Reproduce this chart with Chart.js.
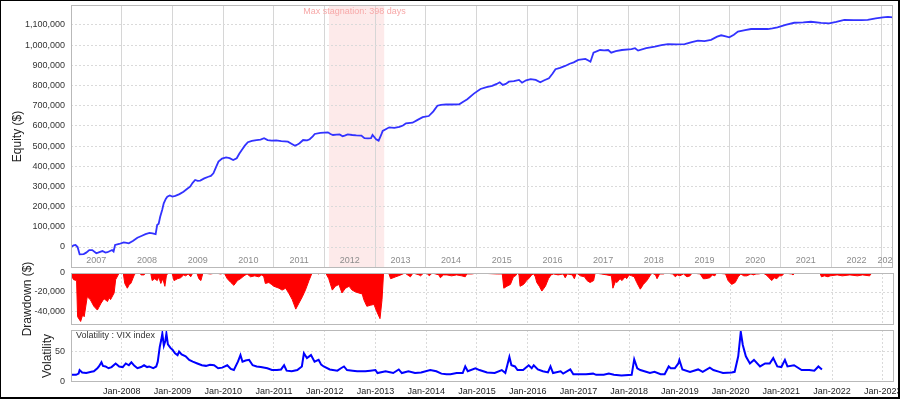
<!DOCTYPE html>
<html>
<head>
<meta charset="utf-8">
<script src="https://cdn.jsdelivr.net/npm/chart.js@4.4.1/dist/chart.umd.min.js"></script>
<style>
  body { margin: 0; background: #fff; }
  #frame {
    position: relative; width: 900px; height: 399px; box-sizing: border-box;
    border: 1px solid #000; border-right-width: 2px; border-bottom-width: 2px;
    overflow: hidden; background: #fff;
  }
  canvas { position: absolute; left: -1px; }
</style>
</head>
<body>
<div id="frame">
  <canvas id="equityChart" width="900" height="270" style="top:-1px;width:900px;height:270px"></canvas>
  <canvas id="drawdownChart" width="900" height="80" style="top:257px;width:900px;height:80px"></canvas>
  <canvas id="vixChart" width="900" height="71" style="top:327px;width:900px;height:71px"></canvas>
</div>
<script>
const X_MIN = 2007;
const X_MAX = 2023.22;
const tickYears = [2008, 2009, 2010, 2011, 2012, 2013, 2014, 2015, 2016, 2017, 2018, 2019, 2020, 2021, 2022, 2023];
const periodYears = [2007, 2008, 2009, 2010, 2011, 2012, 2013, 2014, 2015, 2016, 2017, 2018, 2019, 2020, 2021, 2022, 2023];

const equityTicks = [0, 100000, 200000, 300000, 400000, 500000, 600000, 700000, 800000, 900000, 1000000, 1100000];
const drawdownTicks = [0, -20000, -40000];
const vixTicks = [0, 50];

const stagnationPeriod = [2012.09, 2013.18];
const stagnationLabel = "Max stagnation: 398 days";

const equityYears = [2007.00, 2007.05, 2007.09, 2007.13, 2007.17, 2007.25, 2007.30, 2007.36, 2007.42, 2007.50,
  2007.56, 2007.62, 2007.68, 2007.72, 2007.77, 2007.81, 2007.84, 2007.87, 2007.95, 2008.04,
  2008.10, 2008.14, 2008.22, 2008.31, 2008.40, 2008.47, 2008.55, 2008.61, 2008.67, 2008.70,
  2008.73, 2008.76, 2008.80, 2008.83, 2008.87, 2008.90, 2008.95, 2009.00, 2009.06, 2009.14,
  2009.22, 2009.30, 2009.35, 2009.40, 2009.45, 2009.50, 2009.55, 2009.63, 2009.71, 2009.76,
  2009.81, 2009.86, 2009.91, 2009.98, 2010.06, 2010.13, 2010.20, 2010.27, 2010.32, 2010.37,
  2010.43, 2010.49, 2010.57, 2010.66, 2010.74, 2010.81, 2010.88, 2010.96, 2011.05, 2011.15,
  2011.28, 2011.35, 2011.42, 2011.47, 2011.51, 2011.58, 2011.66, 2011.71, 2011.77, 2011.81,
  2011.92, 2012.07, 2012.12, 2012.17, 2012.24, 2012.30, 2012.36, 2012.40, 2012.46, 2012.55,
  2012.63, 2012.73, 2012.79, 2012.86, 2012.92, 2012.95, 2013.00, 2013.02, 2013.07, 2013.12,
  2013.15, 2013.22, 2013.28, 2013.38, 2013.48, 2013.55, 2013.61, 2013.74, 2013.84, 2013.94,
  2014.06, 2014.15, 2014.23, 2014.30, 2014.40, 2014.50, 2014.66, 2014.74, 2014.82, 2014.95,
  2015.08, 2015.20, 2015.31, 2015.40, 2015.46, 2015.52, 2015.58, 2015.64, 2015.74, 2015.84,
  2015.90, 2015.98, 2016.07, 2016.17, 2016.26, 2016.34, 2016.43, 2016.50, 2016.56, 2016.65,
  2016.75, 2016.84, 2016.92, 2017.01, 2017.15, 2017.20, 2017.25, 2017.31, 2017.44, 2017.52,
  2017.60, 2017.66, 2017.75, 2017.87, 2018.06, 2018.13, 2018.19, 2018.35, 2018.52, 2018.65,
  2018.78, 2018.95, 2019.11, 2019.25, 2019.37, 2019.50, 2019.63, 2019.75, 2019.83, 2019.92,
  2019.99, 2020.08, 2020.16, 2020.30, 2020.42, 2020.60, 2020.75, 2020.84, 2020.94, 2021.10,
  2021.27, 2021.45, 2021.60, 2021.80, 2021.96, 2022.10, 2022.26, 2022.45, 2022.60, 2022.72,
  2022.88, 2023.02, 2023.12, 2023.22];
const equityValues = [0, 8000, 10000, 0, -36000, -35000, -28000, -15000, -15000, -31000,
  -25000, -20000, -28000, -26000, -20000, -15000, -22000, 10000, 15000, 23000,
  20000, 18000, 30000, 46000, 56000, 64000, 70000, 68000, 64000, 109000,
  115000, 150000, 185000, 216000, 238000, 249000, 255000, 250000, 253000, 262000,
  274000, 290000, 299000, 318000, 332000, 328000, 329000, 340000, 348000, 352000,
  365000, 395000, 423000, 438000, 444000, 440000, 431000, 440000, 462000, 481000,
  502000, 519000, 526000, 530000, 532000, 539000, 530000, 527000, 528000, 525000,
  522000, 512000, 502000, 508000, 514000, 530000, 528000, 534000, 548000, 560000,
  565000, 568000, 560000, 555000, 557000, 558000, 549000, 552000, 558000, 555000,
  553000, 552000, 539000, 538000, 539000, 555000, 540000, 534000, 527000, 555000,
  575000, 585000, 593000, 590000, 595000, 602000, 613000, 616000, 630000, 643000,
  649000, 672000, 700000, 704000, 707000, 706000, 707000, 720000, 732000, 760000,
  783000, 792000, 798000, 808000, 816000, 803000, 808000, 819000, 822000, 828000,
  814000, 826000, 832000, 828000, 816000, 826000, 836000, 858000, 881000, 888000,
  897000, 908000, 915000, 927000, 932000, 925000, 918000, 963000, 976000, 974000,
  976000, 963000, 970000, 976000, 980000, 985000, 973000, 985000, 993000, 1000000,
  1005000, 1004000, 1005000, 1015000, 1022000, 1020000, 1026000, 1042000, 1049000, 1044000,
  1039000, 1052000, 1067000, 1074000, 1080000, 1081000, 1080000, 1083000, 1088000, 1100000,
  1111000, 1113000, 1116000, 1110000, 1108000, 1115000, 1125000, 1124000, 1124000, 1125000,
  1133000, 1138000, 1140000, 1138000];

const drawdownYears = [2007.00, 2007.05, 2007.11, 2007.13, 2007.19, 2007.23, 2007.26, 2007.32, 2007.38, 2007.45,
  2007.52, 2007.55, 2007.59, 2007.65, 2007.72, 2007.75, 2007.78, 2007.85, 2007.88, 2007.92,
  2007.95, 2008.03, 2008.06, 2008.11, 2008.15, 2008.18, 2008.24, 2008.27, 2008.36, 2008.38,
  2008.44, 2008.47, 2008.57, 2008.60, 2008.65, 2008.70, 2008.73, 2008.77, 2008.81, 2008.85,
  2008.88, 2008.91, 2008.99, 2009.03, 2009.10, 2009.16, 2009.22, 2009.26, 2009.31, 2009.36,
  2009.40, 2009.48, 2009.52, 2009.56, 2009.60, 2009.75, 2009.85, 2009.95, 2010.02, 2010.08,
  2010.15, 2010.21, 2010.28, 2010.34, 2010.41, 2010.47, 2010.54, 2010.62, 2010.70, 2010.76,
  2010.80, 2010.83, 2010.90, 2010.95, 2011.00, 2011.10, 2011.16, 2011.23, 2011.29, 2011.36,
  2011.43, 2011.49, 2011.56, 2011.62, 2011.69, 2011.75, 2011.86, 2011.88, 2011.91, 2012.02,
  2012.08, 2012.15, 2012.21, 2012.28, 2012.34, 2012.41, 2012.48, 2012.54, 2012.61, 2012.67,
  2012.74, 2012.77, 2012.83, 2012.90, 2012.97, 2013.03, 2013.09, 2013.13, 2013.16, 2013.26,
  2013.30, 2013.40, 2013.50, 2013.58, 2013.66, 2013.69, 2013.74, 2013.86, 2013.89, 2013.95,
  2014.03, 2014.06, 2014.12, 2014.25, 2014.28, 2014.34, 2014.41, 2014.50, 2014.60, 2014.70,
  2014.77, 2014.80, 2014.90, 2015.00, 2015.40, 2015.50, 2015.53, 2015.59, 2015.66, 2015.72,
  2015.76, 2015.80, 2015.83, 2015.85, 2015.92, 2015.98, 2016.02, 2016.08, 2016.12, 2016.15,
  2016.18, 2016.23, 2016.28, 2016.35, 2016.41, 2016.46, 2016.51, 2016.60, 2016.70, 2016.74,
  2016.78, 2016.88, 2016.92, 2016.96, 2017.04, 2017.12, 2017.17, 2017.23, 2017.30, 2017.33,
  2017.45, 2017.56, 2017.65, 2017.68, 2017.73, 2017.76, 2017.82, 2017.86, 2017.92, 2017.95,
  2018.00, 2018.05, 2018.10, 2018.15, 2018.22, 2018.28, 2018.35, 2018.41, 2018.45, 2018.52,
  2018.55, 2018.60, 2018.68, 2018.72, 2018.86, 2018.91, 2018.95, 2019.00, 2019.07, 2019.14,
  2019.20, 2019.24, 2019.40, 2019.46, 2019.50, 2019.59, 2019.64, 2019.69, 2019.72, 2019.90,
  2019.95, 2020.02, 2020.09, 2020.15, 2020.20, 2020.26, 2020.32, 2020.40, 2020.45, 2020.50,
  2020.55, 2020.64, 2020.70, 2020.74, 2020.81, 2020.86, 2020.91, 2020.96, 2021.01, 2021.06,
  2021.20, 2021.23, 2021.27, 2021.76, 2021.79, 2021.85, 2021.92, 2021.96, 2022.10, 2022.20,
  2022.35, 2022.50, 2022.60, 2022.74, 2022.78, 2023.22];
const drawdownValues = [-2000, -7000, -8000, -46000, -51000, -44000, -46000, -25000, -28000, -35000,
  -39000, -36000, -32000, -27000, -30000, -26000, -28000, -21000, -7000, -3000,
  0, 0, -11000, -16000, -12000, -11000, -3000, 0, 0, -2000,
  -2000, 0, 0, -8000, -6000, -8000, -4000, -11000, -6000, -14000,
  -3000, 0, 0, -8000, -6000, -5000, -2000, -3000, -1000, -4000,
  0, 0, -6000, -8000, 0, -1000, 0, -1000, 0, -6000,
  -10000, -13000, -8000, -6000, -3000, -1000, -4000, -3000, -4000, -2000,
  -4000, -11000, -10000, -12000, -14000, -16000, -18000, -16000, -21000, -28000,
  -38000, -32000, -25000, -18000, -8000, 0, 0, -1000, 0, 0,
  -6000, -18000, -14000, -12000, -21000, -16000, -14000, -18000, -20000, -21000,
  -22000, -28000, -35000, -34000, -33000, -41000, -48000, -28000, 0, 0,
  -6000, -4000, -2000, 0, -3000, -4000, 0, -2000, -3000, 0,
  -1000, -3000, 0, -2000, -5000, -2000, -2000, -3000, -2000, -3000,
  -4000, -1000, -1000, 0, -1000, -1000, -16000, -14000, -12000, -4000,
  -3000, 0, -2000, -14000, -12000, -8000, -6000, -2000, -1000, -4000,
  -10000, -14000, -19000, -14000, -6000, -2000, -1000, -2000, -1000, -5000,
  -1000, -2000, -6000, 0, -3000, -4000, -8000, -10000, -8000, 0,
  -1000, -2000, -3000, -16000, -9000, -10000, -6000, -8000, -4000, -6000,
  -2000, -3000, -4000, -10000, -17000, -12000, -8000, -3000, 0, -2000,
  -6000, -1000, -1000, 0, -1000, -4000, -2000, -3000, -1000, -4000,
  -3000, 0, -1000, -6000, -6000, -5000, -2000, -3000, 0, -1000,
  -8000, -12000, -10000, -4000, -1000, -3000, -3000, -1000, -2000, -1000,
  -1000, 0, -2000, -4000, -8000, -5000, -6000, -3000, -3000, 0,
  -1000, -2000, 0, 0, -4000, -3000, -4000, -3000, -2000, -3000,
  -2000, -3000, -2000, -3000, 0, 0];

const vixYears = [2007.00, 2007.10, 2007.15, 2007.17, 2007.22, 2007.30, 2007.40, 2007.45, 2007.52, 2007.55,
  2007.60, 2007.63, 2007.68, 2007.74, 2007.80, 2007.88, 2007.95, 2008.02, 2008.08, 2008.14,
  2008.19, 2008.25, 2008.31, 2008.38, 2008.44, 2008.50, 2008.54, 2008.62, 2008.68, 2008.71,
  2008.75, 2008.78, 2008.80, 2008.83, 2008.86, 2008.88, 2008.91, 2008.96, 2009.00, 2009.05,
  2009.10, 2009.13, 2009.18, 2009.26, 2009.33, 2009.40, 2009.49, 2009.58, 2009.66, 2009.74,
  2009.82, 2009.90, 2009.98, 2010.08, 2010.15, 2010.21, 2010.29, 2010.34, 2010.38, 2010.44,
  2010.51, 2010.58, 2010.66, 2010.74, 2010.87, 2010.96, 2011.06, 2011.14, 2011.20, 2011.25,
  2011.35, 2011.46, 2011.55, 2011.59, 2011.65, 2011.73, 2011.80, 2011.88, 2011.93, 2011.98,
  2012.10, 2012.25, 2012.32, 2012.38, 2012.44, 2012.55, 2012.64, 2012.80, 2012.90, 2013.00,
  2013.04, 2013.20, 2013.35, 2013.46, 2013.52, 2013.65, 2013.78, 2013.90, 2014.08, 2014.20,
  2014.30, 2014.40, 2014.48, 2014.60, 2014.72, 2014.77, 2014.82, 2014.97, 2015.05, 2015.20,
  2015.35, 2015.49, 2015.56, 2015.64, 2015.68, 2015.75, 2015.80, 2015.91, 2016.02, 2016.08,
  2016.12, 2016.20, 2016.30, 2016.40, 2016.45, 2016.50, 2016.65, 2016.70, 2016.84, 2016.90,
  2017.00, 2017.15, 2017.29, 2017.35, 2017.50, 2017.60, 2017.70, 2017.85, 2018.05, 2018.10,
  2018.16, 2018.22, 2018.30, 2018.41, 2018.50, 2018.62, 2018.70, 2018.78, 2018.82, 2018.90,
  2018.97, 2018.99, 2019.05, 2019.20, 2019.36, 2019.45, 2019.59, 2019.66, 2019.78, 2019.85,
  2020.02, 2020.08, 2020.15, 2020.20, 2020.24, 2020.30, 2020.38, 2020.46, 2020.58, 2020.68,
  2020.77, 2020.84, 2020.92, 2021.00, 2021.07, 2021.12, 2021.25, 2021.40, 2021.55, 2021.65,
  2021.73, 2021.80];
const vixValues = [11, 11, 13, 19, 15, 14, 16, 17, 22, 25,
  32, 26, 25, 22, 24, 30, 25, 24, 30, 27,
  32, 26, 22, 24, 27, 24, 25, 22, 25, 33,
  58, 70, 80, 60, 68, 80, 62, 56, 53, 47,
  44, 50, 45, 42, 36, 33, 30, 27, 26, 28,
  27, 22, 23, 27, 21, 19, 33, 44, 33, 35,
  36, 27, 25, 24, 22, 19, 19, 20, 27, 18,
  17, 19, 25, 47, 39, 44, 33, 36, 28, 25,
  20, 18, 22, 25, 19, 18, 17, 17, 18, 19,
  14, 17, 14, 20, 14, 17, 14, 15, 19, 17,
  13, 12, 12, 14, 14, 25, 17, 22, 19, 15,
  14, 19, 14, 41, 27, 25, 19, 19, 27, 22,
  27, 20, 17, 15, 25, 14, 17, 13, 20, 12,
  12, 12, 13, 11, 11, 13, 11, 10, 11, 37,
  22, 19, 17, 14, 16, 12, 12, 25, 22, 22,
  30, 36, 20, 16, 20, 16, 23, 19, 16, 14,
  15, 16, 42, 83, 61, 42, 30, 36, 25, 30,
  30, 39, 25, 24, 36, 25, 27, 19, 19, 18,
  25, 20];

const FONT = "'Liberation Sans', Arial, sans-serif";
const AXIS_WIDTH = 71;

const toPoints = (xs, ys) => xs.map((x, i) => ({ x: x, y: ys[i] }));
const fmt = (v) => Number(v).toLocaleString("en-US");

const fixTicks = (list) => (scale) => {
  scale.ticks = list.map((v) => ({ value: v }));
};
const noPadding = (scale) => {
  scale.paddingTop = 0;
  scale.paddingBottom = 0;
  scale.paddingLeft = 0;
  scale.paddingRight = 0;
};

const yAxis = (min, max, ticks, title, titlePad) => ({
  min: min,
  max: max,
  afterBuildTicks: fixTicks(ticks),
  afterFit: (scale) => {
    scale.width = AXIS_WIDTH;
    noPadding(scale);
  },
  grid: { color: "#dadada", drawTicks: false },
  border: { display: false, dash: [2, 2] },
  ticks: { padding: 6, color: "#333", font: { family: FONT, size: 9 }, callback: fmt },
  title: {
    display: true, text: title, color: "#222",
    font: { family: FONT, size: 12 }, padding: { top: titlePad, bottom: 0 },
  },
});

const hiddenXAxis = (gridColor, dash) => ({
  type: "linear",
  min: X_MIN,
  max: X_MAX,
  afterBuildTicks: fixTicks(tickYears),
  afterFit: (scale) => {
    scale.height = 0;
    noPadding(scale);
  },
  ticks: { display: false },
  grid: { color: gridColor, drawTicks: false },
  border: { display: false, dash: dash },
});

const plotFrame = {
  id: "plotFrame",
  afterDraw(chart) {
    const { ctx, chartArea: a } = chart;
    ctx.save();
    ctx.strokeStyle = "#b9b9b9";
    ctx.lineWidth = 1;
    ctx.strokeRect(a.left + 0.5, a.top + 0.5, a.right - a.left - 1, a.bottom - a.top - 1);
    ctx.restore();
  },
};

const equityDecor = {
  id: "equityDecor",
  beforeDraw(chart) {
    const { ctx, chartArea: a, scales } = chart;
    const x0 = scales.x.getPixelForValue(stagnationPeriod[0]);
    const x1 = scales.x.getPixelForValue(stagnationPeriod[1]);
    ctx.save();
    ctx.fillStyle = "#fdeaea";
    ctx.fillRect(x0, a.top, x1 - x0, a.bottom - a.top);
    ctx.restore();
  },
  afterDraw(chart) {
    const { ctx, chartArea: a, scales } = chart;
    const x = scales.x;
    ctx.save();
    ctx.beginPath();
    ctx.rect(a.left, a.top, a.right - a.left, a.bottom - a.top);
    ctx.clip();
    ctx.font = "9px " + FONT;
    ctx.textAlign = "center";
    ctx.textBaseline = "middle";
    ctx.fillStyle = "#8c8c8c";
    periodYears.forEach((yr) => {
      const from = Math.max(yr, X_MIN);
      const to = Math.min(yr + 1, X_MAX);
      const mid = x.getPixelForValue((from + to) / 2);
      ctx.fillText(String(yr), mid, a.bottom - 7);
    });
    ctx.fillStyle = "#f7a9a9";
    const sx = x.getPixelForValue((stagnationPeriod[0] + stagnationPeriod[1]) / 2);
    ctx.fillText(stagnationLabel, sx - 2, a.top + 7);
    ctx.restore();
  },
};

const vixDecor = {
  id: "vixDecor",
  afterDraw(chart) {
    const { ctx, chartArea: a } = chart;
    ctx.save();
    ctx.font = "9px " + FONT;
    ctx.fillStyle = "#333";
    ctx.textBaseline = "middle";
    ctx.fillText("Volatility : VIX index", a.left + 5, a.top + 6);
    ctx.restore();
  },
};

Chart.defaults.font.family = FONT;

new Chart(document.getElementById("equityChart"), {
  type: "line",
  data: {
    datasets: [{
      data: toPoints(equityYears, equityValues),
      borderColor: "#3232ff",
      borderWidth: 1.8,
      pointRadius: 0,
      tension: 0,
    }],
  },
  options: {
    responsive: false,
    animation: false,
    devicePixelRatio: 1,
    layout: { padding: { top: 5, right: 7, bottom: 2, left: 0 } },
    plugins: { legend: { display: false }, tooltip: { enabled: false } },
    scales: {
      x: hiddenXAxis("#d6d6d6", []),
      y: yAxis(-104000, 1199000, equityTicks, "Equity ($)", 10),
    },
  },
  plugins: [equityDecor, plotFrame],
});

new Chart(document.getElementById("drawdownChart"), {
  type: "line",
  data: {
    datasets: [{
      data: toPoints(drawdownYears, drawdownValues),
      borderColor: "#ff0000",
      backgroundColor: "#ff0000",
      borderWidth: 1,
      fill: "origin",
      pointRadius: 0,
      tension: 0,
    }],
  },
  options: {
    responsive: false,
    animation: false,
    devicePixelRatio: 1,
    layout: { padding: { top: 15, right: 6, bottom: 13, left: 0 } },
    plugins: { legend: { display: false }, tooltip: { enabled: false } },
    scales: {
      x: hiddenXAxis("#dadada", [2, 2]),
      y: yAxis(-54700, 0, drawdownTicks, "Drawdown ($)", 20),
    },
  },
  plugins: [plotFrame],
});

new Chart(document.getElementById("vixChart"), {
  type: "line",
  data: {
    datasets: [{
      data: toPoints(vixYears, vixValues),
      borderColor: "#0000ff",
      borderWidth: 2,
      pointRadius: 0,
      tension: 0,
    }],
  },
  options: {
    responsive: false,
    animation: false,
    devicePixelRatio: 1,
    layout: { padding: { top: 2, right: 6, bottom: 0, left: 0 } },
    plugins: { legend: { display: false }, tooltip: { enabled: false } },
    scales: {
      x: {
        type: "linear",
        min: X_MIN,
        max: X_MAX,
        afterBuildTicks: fixTicks(tickYears),
        afterFit: (scale) => {
          scale.height = 17;
          noPadding(scale);
        },
        grid: { color: "#dadada", drawTicks: false },
        border: { display: false, dash: [2, 2] },
        ticks: {
          padding: 4, color: "#222", autoSkip: false, maxRotation: 0,
          font: { family: FONT, size: 9 },
          callback: (v) => "Jan-" + v,
        },
      },
      y: yAxis(-1, 86, vixTicks, "Volatility", 40),
    },
  },
  plugins: [vixDecor, plotFrame],
});
</script>
</body>
</html>
